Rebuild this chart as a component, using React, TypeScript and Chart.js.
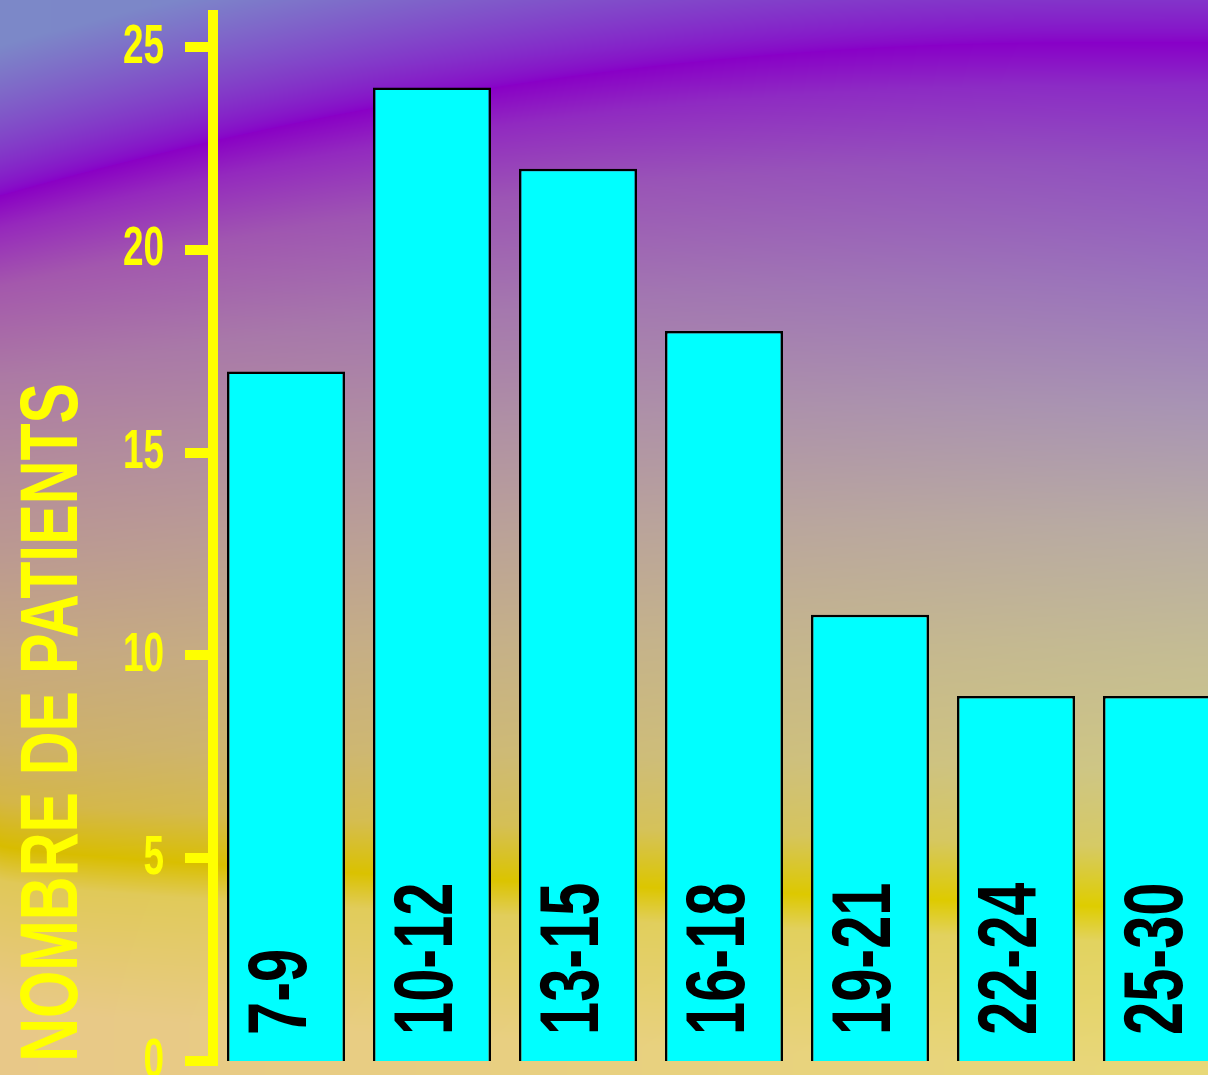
import React, { useEffect, useRef } from 'react';
import { Chart, registerables } from 'chart.js';

Chart.register(...registerables);

// ---- data ----
const CATEGORIES: string[] = ['7-9', '10-12', '13-15', '16-18', '19-21', '22-24', '25-30'];
const PATIENTS: number[] = [17, 24, 22, 18, 11, 9, 9];
const Y_TICKS: number[] = [0, 5, 10, 15, 20, 25];
const Y_TITLE = 'NOMBRE DE PATIENTS';
const Y_MIN = 0;
const Y_MAX = 25.79;

// ---- canvas geometry ----
const W = 1240;
const H = 1075;
const YELLOW = '#ffff00';
const FONT = "'Liberation Sans', Arial, sans-serif";

type RGB = [number, number, number];
const hex = (c: string): RGB => [
  parseInt(c.slice(1, 3), 16),
  parseInt(c.slice(3, 5), 16),
  parseInt(c.slice(5, 7), 16),
];
const mix = (a: RGB, b: RGB, t: number): RGB => [
  a[0] + (b[0] - a[0]) * t,
  a[1] + (b[1] - a[1]) * t,
  a[2] + (b[2] - a[2]) * t,
];

// background gradient stops (between purple band and yellow band), [s, left, right]
const MID_STOPS: [number, string, string][] = [
  [0.0, '#8a00c4', '#8800c8'],
  [0.05, '#9628bc', '#8a2cc6'],
  [0.14, '#a458ac', '#9050c0'],
  [0.28, '#ac7aa4', '#9a74bc'],
  [0.42, '#b48c9a', '#a894b4'],
  [0.56, '#bc9a90', '#b8aca4'],
  [0.7, '#c6a880', '#c4bc94'],
  [0.84, '#ceb068', '#cec888'],
  [0.93, '#d4b648', '#d6cc68'],
  [1.0, '#d8bc00', '#dfcf00'],
];
const LOW_STOPS: [number, string, string][] = [
  [0, '#d8bc00', '#dfcf00'],
  [35, '#e0c858', '#e2d460'],
  [160, '#e8c888', '#e8d878'],
];

function makeBackground(): HTMLCanvasElement {
  const c = document.createElement('canvas');
  c.width = W;
  c.height = H;
  const g = c.getContext('2d')!;
  const img = g.createImageData(W, H);
  const mid = MID_STOPS.map(([s, l, r]) => [s, hex(l), hex(r)] as [number, RGB, RGB]);
  const low = LOW_STOPS.map(([s, l, r]) => [s, hex(l), hex(r)] as [number, RGB, RGB]);
  const purple = hex('#8800c8');
  const topL = hex('#7c88c8');
  const topR = hex('#7c7ccc');
  const interp = (stops: [number, RGB, RGB][], v: number, fx: number): RGB => {
    if (v <= stops[0][0]) return mix(stops[0][1], stops[0][2], fx);
    for (let i = 1; i < stops.length; i++) {
      if (v <= stops[i][0]) {
        const a = mix(stops[i - 1][1], stops[i - 1][2], fx);
        const b = mix(stops[i][1], stops[i][2], fx);
        return mix(a, b, (v - stops[i - 1][0]) / (stops[i][0] - stops[i - 1][0]));
      }
    }
    const l = stops[stops.length - 1];
    return mix(l[1], l[2], fx);
  };
  for (let x = 0; x < W; x++) {
    const fx = Math.min(1, x / 1208);
    const P = 42 + 153 * Math.pow(Math.max(0, (1080 - x) / 1080), 2);
    const Yb = 845 + 65 * Math.pow(fx, 0.7);
    const top = mix(topL, topR, fx);
    for (let y = 0; y < H; y++) {
      let col: RGB;
      if (y < P) {
        const d = Math.min(1, (P - y) / 150);
        col = mix(purple, top, Math.pow(d, 0.7));
      } else if (y <= Yb) {
        col = interp(mid, (y - P) / (Yb - P), fx);
      } else {
        col = interp(low, y - Yb, fx);
      }
      const i = (y * W + x) * 4;
      img.data[i] = col[0];
      img.data[i + 1] = col[1];
      img.data[i + 2] = col[2];
      img.data[i + 3] = 255;
    }
  }
  g.putImageData(img, 0, 0);
  return c;
}

export default function App() {
  const ref = useRef<HTMLCanvasElement | null>(null);

  useEffect(() => {
    if (!ref.current) return;
    const bg = makeBackground();

    const backgroundPlugin = {
      id: 'bgImage',
      beforeDraw(chart: any) {
        const ctx = chart.ctx;
        ctx.save();
        ctx.drawImage(bg, 0, 0, chart.width, chart.height);
        ctx.restore();
      },
    };

    const textPlugin = {
      id: 'texts',
      afterDraw(chart: any) {
        const ctx: CanvasRenderingContext2D = chart.ctx;
        const yScale = chart.scales.y;
        // tick labels
        ctx.save();
        ctx.fillStyle = YELLOW;
        ctx.font = `bold 56px ${FONT}`;
        ctx.textAlign = 'right';
        ctx.textBaseline = 'alphabetic';
        for (const t of yScale.ticks) {
          const py = yScale.getPixelForValue(t.value);
          ctx.save();
          ctx.translate(164, py + 15.5);
          ctx.scale(0.66, 1);
          ctx.fillText(String(t.value), 0, 0);
          ctx.restore();
        }
        ctx.restore();
        // axis title
        ctx.save();
        ctx.fillStyle = YELLOW;
        ctx.font = `bold 82px ${FONT}`;
        ctx.textAlign = 'right';
        ctx.textBaseline = 'alphabetic';
        ctx.translate(77, 383);
        ctx.rotate(-Math.PI / 2);
        ctx.scale(0.74, 1);
        ctx.fillText(Y_TITLE, 0, 0);
        ctx.restore();
      },
      afterDatasetsDraw(chart: any) {
        const ctx: CanvasRenderingContext2D = chart.ctx;
        const meta = chart.getDatasetMeta(0);
        const base = chart.scales.y.getPixelForValue(0);
        ctx.save();
        ctx.fillStyle = '#000000';
        ctx.font = `bold 84px ${FONT}`;
        ctx.textAlign = 'left';
        ctx.textBaseline = 'alphabetic';
        meta.data.forEach((bar: any, i: number) => {
          ctx.save();
          ctx.translate(bar.x + 20, base - 26);
          ctx.rotate(-Math.PI / 2);
          ctx.scale(0.71, 1);
          ctx.fillText(CATEGORIES[i], 0, 0);
          ctx.restore();
        });
        ctx.restore();
      },
    };

    const chart = new Chart(ref.current, {
      type: 'bar',
      data: {
        labels: CATEGORIES,
        datasets: [
          {
            data: PATIENTS,
            base: -0.000001,
            backgroundColor: '#00ffff',
            borderColor: '#000000',
            borderWidth: 2.5,
            barPercentage: 118 / 146,
            categoryPercentage: 1,
          },
        ],
      },
      options: {
        animation: false,
        responsive: false,
        devicePixelRatio: 1,
        layout: { padding: { top: 15, bottom: 14, left: 0, right: 5 } },
        plugins: { legend: { display: false }, tooltip: { enabled: false }, title: { display: false } },
        scales: {
          x: { type: 'category', display: false, offset: true },
          y: {
            type: 'linear',
            min: Y_MIN,
            max: Y_MAX,
            afterBuildTicks: (scale: any) => {
              scale.ticks = Y_TICKS.map((v) => ({ value: v }));
            },
            afterFit: (scale: any) => {
              scale.width = 213;
            },
            ticks: { display: false },
            border: { display: true, color: YELLOW, width: 10 },
            grid: {
              drawOnChartArea: false,
              drawTicks: true,
              tickLength: 28,
              tickWidth: 10,
              tickColor: YELLOW,
              lineWidth: 10,
              color: YELLOW,
            },
          },
        },
      },
      plugins: [backgroundPlugin, textPlugin],
    });
    return () => chart.destroy();
  }, []);

  return (
    <div style={{ position: 'absolute', left: 0, top: 0, width: 1208, height: 1075, overflow: 'hidden' }}>
      <canvas ref={ref} width={W} height={H} style={{ display: 'block' }} />
    </div>
  );
}
